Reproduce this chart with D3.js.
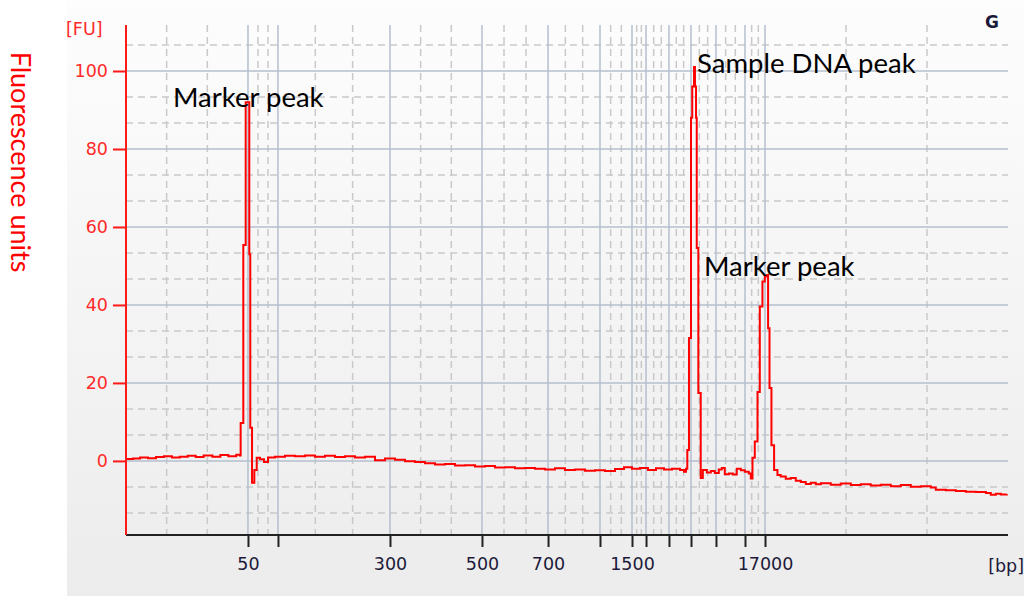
<!DOCTYPE html>
<html>
<head>
<meta charset="utf-8">
<script src="https://cdn.jsdelivr.net/npm/d3@7"></script>
<style>
  html, body { margin: 0; padding: 0; background: #ffffff; overflow: hidden; }
  svg { display: block; }
</style>
</head>
<body>
<svg id="chart" width="1024" height="596"></svg>
<script>
// Ladder fragments: migration time (s) and the size they stand for (bp)
const ladderTimes = [33.83, 37.23, 49.93, 60.36, 67.85, 73.74, 77.37, 78.96, 81.56, 84.06, 86.89, 90.18, 92.45];
const ladderSizes = [50, 100, 300, 500, 700, 1000, 1500, 2000, 3000, 4000, 5000, 7000, 17000];
const labelledSizes = [50, 300, 500, 700, 1500, 17000];

// Fluorescence ticks
const fuTicks = [0, 20, 40, 60, 80, 100];

// Electropherogram trace: migration time (s) and fluorescence (FU)
const traceTime = [
  20.00, 20.80, 21.60, 22.50, 23.40, 24.30, 25.20, 26.10, 27.00, 27.90, 28.80, 29.80, 30.70, 31.60, 32.50, 32.90,
  33.00, 33.30, 33.57, 33.98, 34.09, 34.29, 34.55, 34.82,
  35.19, 35.65, 36.10, 36.89, 38.03, 39.16, 40.29, 41.43, 42.56, 43.70, 44.83, 45.96, 47.10, 48.23, 49.37,
  50.50, 51.63, 52.77, 53.90, 55.03, 56.17, 57.30, 58.44, 59.57, 60.70, 61.84, 62.97, 64.10, 65.24, 66.37,
  67.50, 68.64, 69.77, 70.91, 72.04, 73.17, 74.31, 75.44, 76.46, 77.37, 78.28, 79.18, 80.09, 81.00, 81.90,
  82.81, 83.27, 83.49,
  83.64, 83.83, 84.06, 84.20, 84.40, 84.51, 84.63, 84.71, 84.89, 85.16, 85.40,
  85.86, 86.31, 86.76, 87.21, 87.55, 87.89, 88.35, 88.80, 89.25, 89.71, 90.16, 90.61, 90.84,
  91.03, 91.29, 91.60, 91.86, 92.16, 92.43, 92.65, 92.80, 92.96, 93.18, 93.48, 93.86,
  94.23, 94.80, 95.37, 95.94, 96.51, 97.07, 97.64, 98.21, 98.78, 99.91, 101.04, 102.18, 103.31, 104.44,
  105.58, 106.71, 107.85, 108.98, 110.11, 111.25, 111.81, 112.95, 114.09, 115.22, 116.36, 117.50, 118.05,
  118.62, 119.18, 119.86
];
const traceFU = [
  0.5, 0.6, 0.9, 0.7, 1.0, 1.2, 0.9, 1.1, 1.3, 1.0, 1.4, 1.1, 1.5, 1.2, 1.6, 1.4,
  9.7, 55.4, 92.0, 53.0, 8.5, -5.6, -2.3, 0.8,
  0.4, -0.3, 0.9, 1.1, 1.3, 1.2, 1.4, 1.1, 1.3, 1.0, 1.2, 0.9, 1.1, 0.2, 0.6,
  0.3, -0.1, -0.3, -0.6, -0.9, -0.8, -1.2, -1.1, -1.4, -1.3, -1.7, -1.6, -1.9, -1.8, -2.0,
  -2.2, -1.9, -2.3, -2.2, -2.5, -2.4, -2.6, -2.1, -1.6, -2.0, -1.8, -2.3, -1.9, -2.2, -2.0,
  -2.3, -2.8, -2.0,
  2.8, 31.5, 88.0, 96.0, 101.0, 96.0, 88.0, 54.6, 17.4, -4.4, -2.3,
  -3.0, -2.6, -3.1, -2.2, -1.8, -3.4, -3.2, -3.5, -2.0, -2.4, -2.8, -3.2, -4.5,
  0.8, 5.0, 17.7, 39.6, 46.0, 47.3, 47.7, 34.0, 18.7, 4.0, -2.3, -3.6,
  -4.0, -4.6, -4.4, -5.1, -5.4, -5.9, -5.6, -6.0, -5.7, -6.1, -5.8, -6.2, -6.0, -6.3,
  -6.1, -6.5, -6.2, -6.6, -6.5, -6.8, -7.4, -7.5, -7.7, -7.9, -8.0, -8.2, -8.7,
  -8.4, -8.6, -8.5
];

// Peak annotations, anchored in data coordinates (time, FU) at the text start
const noteText = ["Marker peak", "Sample DNA peak", "Marker peak"];
const noteTime = [25.33, 84.74, 85.53];
const noteFU = [90.8, 99.6, 47.3];

const svg = d3.select("#chart");
const W = 1024, H = 596;
const plot = { left: 126, right: 1008, top: 25, bottom: 535 };

const defs = svg.append("defs");
const grad = defs.append("linearGradient")
  .attr("id", "panelFill").attr("x1", 0).attr("y1", 0).attr("x2", 0).attr("y2", 1);
grad.append("stop").attr("offset", "0%").attr("stop-color", "#fdfdfd");
grad.append("stop").attr("offset", "100%").attr("stop-color", "#ececec");

svg.append("rect").attr("width", W).attr("height", H).attr("fill", "#ffffff");
svg.append("rect").attr("x", 67).attr("y", 0).attr("width", W - 67).attr("height", H)
  .attr("fill", "url(#panelFill)");

const x = d3.scaleLinear().domain([20, 120]).range([plot.left, plot.right]);
const y = d3.scaleLinear().domain([-19, 111.8]).range([plot.bottom, plot.top]);

// Minor grid: thirds between neighbouring ladder positions (and the axis ends)
const xEdges = [x.domain()[0], ...ladderTimes, x.domain()[1]];
const xMinor = [];
for (let i = 0; i < xEdges.length - 1; i++) {
  const a = xEdges[i], b = xEdges[i + 1];
  xMinor.push(a + (b - a) / 3, a + 2 * (b - a) / 3);
}
const yMinor = d3.range(-40 / 3, 111.8, 20 / 3).filter(v => Math.abs(v / 20 - Math.round(v / 20)) > 0.01);

const grid = svg.append("g");
grid.selectAll(".hminor").data(yMinor).join("line")
  .attr("x1", plot.left).attr("x2", plot.right)
  .attr("y1", d => y(d)).attr("y2", d => y(d))
  .attr("stroke", "#c9c9c9").attr("stroke-width", 1.5).attr("stroke-dasharray", "7,5");
grid.selectAll(".vminor").data(xMinor).join("line")
  .attr("x1", d => x(d)).attr("x2", d => x(d))
  .attr("y1", plot.top).attr("y2", plot.bottom)
  .attr("stroke", "#c9c9c9").attr("stroke-width", 1.5).attr("stroke-dasharray", "7,5");
grid.selectAll(".hmajor").data(fuTicks).join("line")
  .attr("x1", plot.left).attr("x2", plot.right)
  .attr("y1", d => y(d)).attr("y2", d => y(d))
  .attr("stroke", "#b5bfcf").attr("stroke-width", 1.5);
grid.selectAll(".vmajor").data(ladderTimes).join("line")
  .attr("x1", d => x(d)).attr("x2", d => x(d))
  .attr("y1", plot.top).attr("y2", plot.bottom)
  .attr("stroke", "#b5bfcf").attr("stroke-width", 1.5);

// Trace
const trace = traceTime.map((t, i) => [t, traceFU[i]]);
svg.append("path")
  .datum(trace)
  .attr("fill", "none")
  .attr("stroke", "#ff0000")
  .attr("stroke-width", 2)
  .attr("stroke-linejoin", "miter")
  .attr("d", d3.line().x(d => x(d[0])).y(d => y(d[1])).curve(d3.curveStepAfter));

// X axis
const sizeAt = new Map(ladderTimes.map((t, i) => [t, ladderSizes[i]]));
const xAxis = d3.axisBottom(x)
  .tickValues(ladderTimes)
  .tickSize(12)
  .tickPadding(11)
  .tickFormat(t => labelledSizes.includes(sizeAt.get(t)) ? String(sizeAt.get(t)) : "");
const gx = svg.append("g").attr("transform", `translate(0,${plot.bottom})`).call(xAxis);
gx.select(".domain").attr("d", `M${plot.left},0H${plot.right}`).attr("stroke", "#222").attr("stroke-width", 2);
gx.selectAll(".tick line").attr("stroke", "#222").attr("stroke-width", 2);
gx.selectAll(".tick text")
  .attr("fill", "#1c1a3a")
  .attr("font-family", "DejaVu Sans")
  .attr("font-size", 17.5);

// Y axis
const yAxis = d3.axisLeft(y).tickValues(fuTicks).tickSize(13).tickPadding(5);
const gy = svg.append("g").attr("transform", `translate(${plot.left},0)`).call(yAxis);
gy.select(".domain").attr("d", `M0,${plot.top}V${plot.bottom}`).attr("stroke", "#ff1a1a").attr("stroke-width", 2);
gy.selectAll(".tick line").attr("stroke", "#ff1a1a").attr("stroke-width", 2);
gy.selectAll(".tick text")
  .attr("fill", "#ff2a2a")
  .attr("font-family", "DejaVu Sans")
  .attr("font-size", 17.5);

// Unit labels
svg.append("text").attr("x", 66).attr("y", 35)
  .attr("fill", "#ff2a2a").attr("font-family", "DejaVu Sans").attr("font-size", 17.5)
  .text("[FU]");
svg.append("text").attr("x", 1024).attr("y", 572).attr("text-anchor", "end")
  .attr("fill", "#1c1a3a").attr("font-family", "DejaVu Sans").attr("font-size", 17.5)
  .text("[bp]");
svg.append("text").attr("x", 999).attr("y", 28).attr("text-anchor", "end")
  .attr("fill", "#1c1a3a").attr("font-family", "DejaVu Sans").attr("font-weight", "bold").attr("font-size", 17)
  .text("G");

// Axis title
svg.append("text")
  .attr("transform", "translate(11,162) rotate(90)")
  .attr("text-anchor", "middle")
  .attr("fill", "#ff0000")
  .attr("font-family", "Lato")
  .attr("font-size", 27)
  .text("Fluorescence units");

// Peak annotations
svg.append("g").selectAll("text").data(noteText).join("text")
  .attr("x", (d, i) => x(noteTime[i]))
  .attr("y", (d, i) => y(noteFU[i]))
  .attr("fill", "#000000")
  .attr("font-family", "Lato")
  .attr("font-size", 27.5)
  .text(d => d);
</script>
</body>
</html>
